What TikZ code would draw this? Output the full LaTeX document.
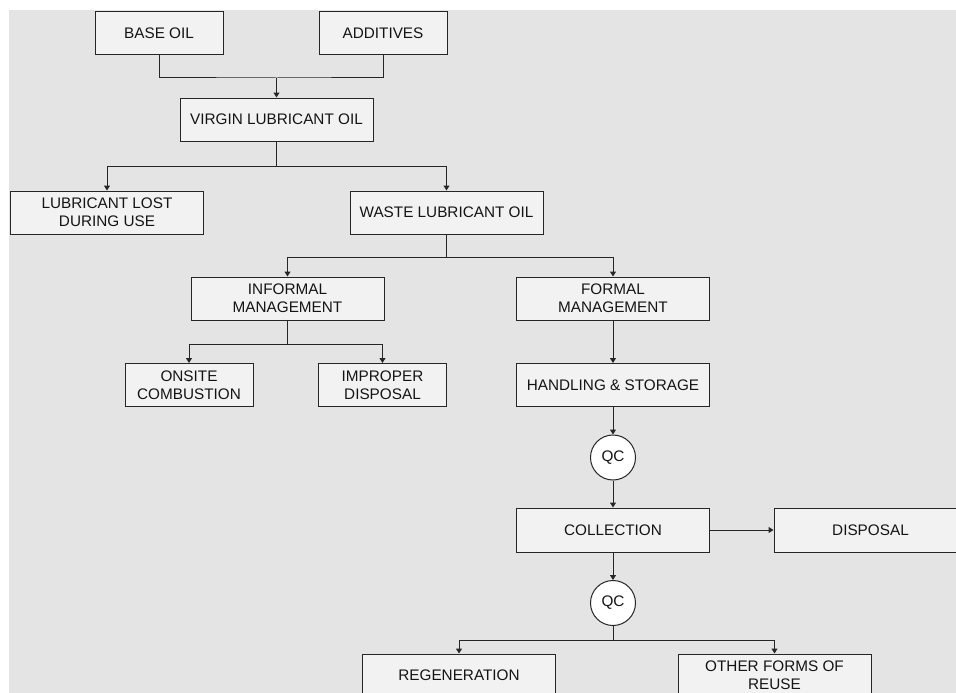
\documentclass[tikz,border=0pt]{standalone}
\usepackage{fontspec}
\setmainfont{Liberation Sans}
\usetikzlibrary{arrows.meta}
\definecolor{panel}{HTML}{E4E4E4}
\definecolor{boxfill}{HTML}{F2F2F2}
\definecolor{edge}{HTML}{262626}
\begin{document}
\begin{tikzpicture}[x=1pt,y=-1pt,
  every node/.style={font=\fontsize{15.3}{18}\selectfont, text=black!92},
  stage/.style={draw=edge, line width=1pt, fill=boxfill, minimum width=193pt,
    minimum height=43pt, inner sep=0pt, align=center},
  small/.style={stage, minimum width=128pt},
  qc/.style={circle, draw=edge, line width=1pt, fill=white, minimum size=45pt, inner sep=0pt},
  link/.style={draw=edge, line width=1pt},
  flow/.style={link, -{Triangle[width=6pt,length=5pt]}}]
  % page and panel
  \useasboundingbox (0,0) rectangle (956,693);
  \fill[panel] (9,10) rectangle (956,693);
  \begin{scope}
  \clip (9,10) rectangle (956,693);
  % nodes
  \node[small] (base) at (159,33.5) {BASE OIL};
  \node[small] (add)  at (383,33.5) {ADDITIVES};
  \node[stage] (virgin) at (276.5,119.5) {VIRGIN LUBRICANT OIL};
  \node[stage] (lost)  at (107,212.5) {LUBRICANT LOST\\DURING USE};
  \node[stage] (waste) at (446.5,212.5) {WASTE LUBRICANT OIL};
  \node[stage] (informal) at (287.5,298.5) {INFORMAL\\MANAGEMENT};
  \node[stage] (formal)   at (613,298.5) {FORMAL\\MANAGEMENT};
  \node[small] (onsite)   at (189,385) {ONSITE\\COMBUSTION};
  \node[small] (improper) at (382.5,385) {IMPROPER\\DISPOSAL};
  \node[stage] (handling) at (613,385) {HANDLING \& STORAGE};
  \node[qc] (qca) at (613,457.5) {QC};
  \node[stage, minimum height=44pt] (collection) at (613,530) {COLLECTION};
  \node[stage, minimum height=44pt] (disposal)   at (870.5,530) {DISPOSAL};
  \node[qc] (qcb) at (613,603) {QC};
  \node[stage] (regen) at (459,675.5) {REGENERATION};
  \node[stage] (other) at (774.5,675.5) {OTHER FORMS OF\\REUSE};
  % junction points
  \coordinate (ja) at (276.5,78);
  \coordinate (jb) at (276.5,166);
  \coordinate (jc) at (446.5,257);
  \coordinate (jd) at (287.5,344);
  \coordinate (je) at (613,640);
  % connectors
  \draw[link] (base.south) |- (ja) -| (add.south);
  \draw[flow] (ja) -- (virgin.north);
  \draw[link] (virgin.south) -- (jb);
  \draw[flow] (jb) -| (lost.north);
  \draw[flow] (jb) -| (waste.north);
  \draw[link] (waste.south) -- (jc);
  \draw[flow] (jc) -| (informal.north);
  \draw[flow] (jc) -| (formal.north);
  \draw[link] (informal.south) -- (jd);
  \draw[flow] (jd) -| (onsite.north);
  \draw[flow] (jd) -| (improper.north);
  \draw[flow] (formal.south) -- (handling.north);
  \draw[flow] (handling.south) -- (qca.north);
  \draw[flow] (qca.south) -- (collection.north);
  \draw[flow] (collection.east) -- (disposal.west);
  \draw[flow] (collection.south) -- (qcb.north);
  \draw[link] (qcb.south) -- (je);
  \draw[flow] (je) -| (regen.north);
  \draw[flow] (je) -| (other.north);
  \end{scope}
\end{tikzpicture}
\end{document}
